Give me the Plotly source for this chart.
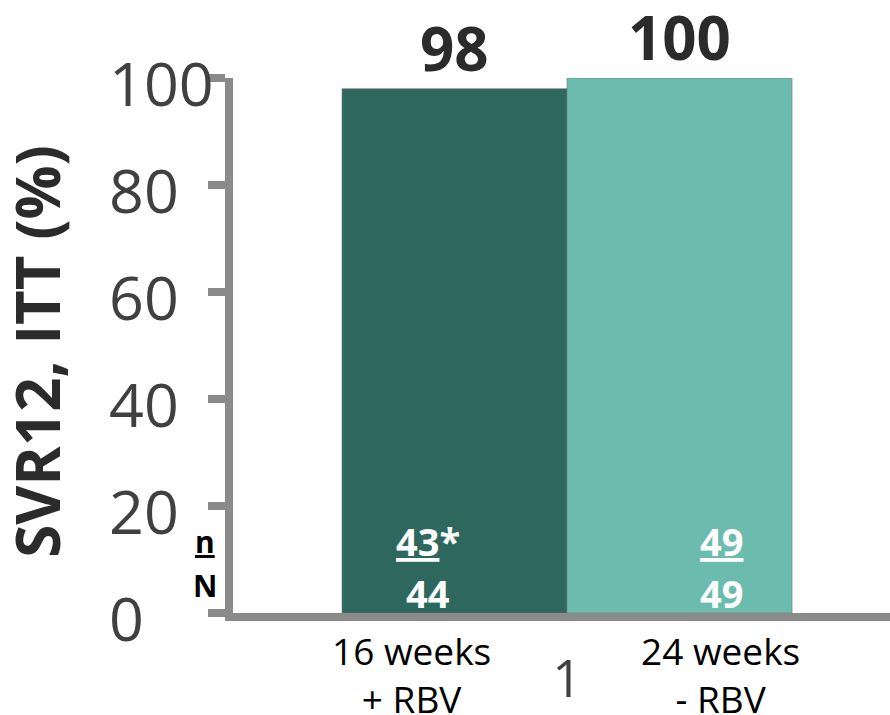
import plotly.graph_objects as go

# SVR12 (ITT) by treatment arm
category = ["1"]
arm_labels = ["16 weeks<br>+ RBV", "24 weeks<br>- RBV"]
svr_pct = [98, 100]
n_resp = [43, 49]
n_marks = ["*", ""]
n_total = [44, 49]
y_ticks = [0, 20, 40, 60, 80, 100]

bar_colors = ["#2E675D", "#6BBBAE"]
axis_gray = "#8A8A8A"
font_family = "Open Sans, Liberation Sans, sans-serif"

bargap = 0.315
half_group = (1 - bargap) / 2
centers = [-half_group / 2, half_group / 2]

fig = go.Figure()
for i in range(2):
    fig.add_trace(go.Bar(
        x=category,
        y=[svr_pct[i]],
        marker=dict(color=bar_colors[i], line=dict(color="rgba(120,120,120,0.6)", width=1)),
        showlegend=False,
        hoverinfo="skip",
    ))

annotations = []
# value labels above bars
for i in range(2):
    annotations.append(dict(
        x=centers[i], y=svr_pct[i], xref="x", yref="y",
        text=f"<b>{svr_pct[i]}</b>", showarrow=False,
        yanchor="middle", yshift=41,
        font=dict(family=font_family, size=60, color="#2B2B2B"),
    ))

# n / N labels inside bars
nx_shift = [-27, 42]
for i in range(2):
    annotations.append(dict(
        x=centers[i], y=13.4, xref="x", yref="y", xshift=nx_shift[i],
        text=f"<b><u>{n_resp[i]}</u>{n_marks[i]}</b>", showarrow=False,
        yanchor="middle",
        font=dict(family=font_family, size=38, color="white"),
    ))
    annotations.append(dict(
        x=centers[i], y=3.8, xref="x", yref="y", xshift=nx_shift[i],
        text=f"<b>{n_total[i]}</b>", showarrow=False,
        yanchor="middle",
        font=dict(family=font_family, size=38, color="white"),
    ))

# row keys left of the axis
annotations.append(dict(
    x=-0.042, y=13.4, xref="paper", yref="y", text="<b><u>n</u></b>",
    showarrow=False, yanchor="middle", xanchor="center",
    font=dict(family=font_family, size=30, color="black"),
))
annotations.append(dict(
    x=-0.042, y=5.2, xref="paper", yref="y", text="<b>N</b>",
    showarrow=False, yanchor="middle", xanchor="center",
    font=dict(family=font_family, size=30, color="black"),
))

# y tick labels, left-aligned
for v in y_ticks:
    annotations.append(dict(
        x=-0.1918, y=v, xref="paper", yref="y", text=str(v),
        showarrow=False, xanchor="left", yanchor="middle", yshift=-4,
        font=dict(family=font_family, size=61, color="#404040"),
    ))

# arm labels under the axis
arm_shift = [-43, 41]
for i in range(2):
    annotations.append(dict(
        x=centers[i], y=0, xref="x", yref="paper", xshift=arm_shift[i],
        yanchor="top", yshift=-10,
        text=arm_labels[i], showarrow=False,
        font=dict(family=font_family, size=37, color="black"),
    ))

# y-axis title
annotations.append(dict(
    x=-0.2985, y=0.49, xref="paper", yref="paper",
    text="<b>SVR12, ITT (%)</b>", textangle=-90, showarrow=False,
    xanchor="center", yanchor="middle",
    font=dict(family=font_family, size=60, color="#2B2B2B"),
))

fig.update_layout(
    width=890, height=715,
    margin=dict(l=233, r=0, t=78, b=102),
    paper_bgcolor="white", plot_bgcolor="white",
    barmode="group", bargap=bargap, bargroupgap=0,
    annotations=annotations,
    xaxis=dict(
        type="category", range=[-0.5084, 0.4916], automargin=False,
        showline=True, linewidth=8, linecolor=axis_gray,
        ticks="", showgrid=False, zeroline=False,
        tickfont=dict(family=font_family, size=52, color="#404040"),
        ticklabelstandoff=14,
    ),
    yaxis=dict(
        range=[0, 100], tickvals=y_ticks, showticklabels=False, automargin=False,
        showline=True, linewidth=8, linecolor=axis_gray,
        ticks="outside", ticklen=17, tickwidth=8, tickcolor=axis_gray,
        showgrid=False, zeroline=False,
    ),
)

fig.write_html("out.html")
